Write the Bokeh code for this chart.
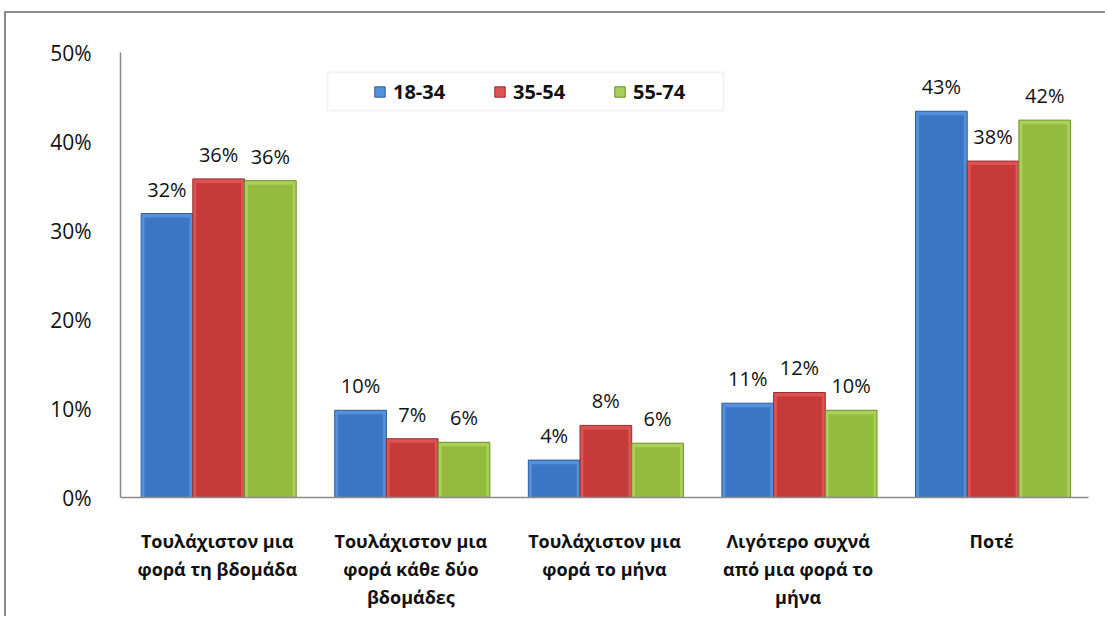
from bokeh.plotting import figure
from bokeh.models import (FactorRange, ColumnDataSource, Range1d, LabelSet, Legend, LegendItem,
                          PrintfTickFormatter, FixedTicker, BoxAnnotation)
from bokeh.core.properties import value
from bokeh.transform import dodge
from bokeh.embed import file_html
from bokeh.resources import INLINE

categories = ["Τουλάχιστον μια\nφορά τη βδομάδα",
              "Τουλάχιστον μια\nφορά κάθε δύο\nβδομάδες",
              "Τουλάχιστον μια\nφορά το μήνα",
              "Λιγότερο συχνά\nαπό μια φορά το\nμήνα",
              "Ποτέ"]
series_names = ["18-34", "35-54", "55-74"]
v18_34 = [31.9, 9.8, 4.2, 10.6, 43.4]
v35_54 = [35.8, 6.6, 8.1, 11.8, 37.8]
v55_74 = [35.6, 6.2, 6.1, 9.8, 42.4]
y_ticks = [0, 10, 20, 30, 40, 50]

colors = ["#3b76c4", "#c73a3a", "#93bc3f"]
bevels = ["#5590dc", "#dc5353", "#abd05a"]
edges = ["#2d5c9c", "#982c2c", "#6c8c2b"]
FONT = "Open Sans"

p = figure(width=1101, height=605, x_range=FactorRange(*categories), y_range=Range1d(0, 50),
           output_backend="svg", toolbar_location=None,
           min_border_left=114, min_border_right=19, min_border_top=39, min_border_bottom=121)
p.styles = {"margin-left": "4px", "margin-top": "11px",
            "border-top": "2px solid #8a8a8a", "border-left": "2px solid #8a8a8a"}
p.outline_line_color = None
p.xgrid.grid_line_color = None
p.ygrid.grid_line_color = None

BEVEL = 0.45  # visual bevel depth in y units
src = ColumnDataSource(dict(cat=categories, a=v18_34, b=v35_54, c=v55_74,
                            ai=[max(v - BEVEL, 0) for v in v18_34],
                            bi=[max(v - BEVEL, 0) for v in v35_54],
                            ci=[max(v - BEVEL, 0) for v in v55_74],
                            la=[f"{round(v)}%" for v in v18_34],
                            lb=[f"{round(v)}%" for v in v35_54],
                            lc=[f"{round(v)}%" for v in v55_74]))

W = 0.267
items = []
for i, (key, lab, off, name) in enumerate([("a", "la", -W, series_names[0]),
                                           ("b", "lb", 0.0, series_names[1]),
                                           ("c", "lc", W, series_names[2])]):
    xs = dodge("cat", off + 0.007, range=p.x_range)
    r = p.vbar(x=xs, top=key, width=W, source=src,
               fill_color=bevels[i], line_color=edges[i], line_width=1)
    p.vbar(x=xs, top=key + "i", width=W - 0.035, source=src,
           fill_color=colors[i], line_color=None)
    labels = LabelSet(x=xs, y=key, text=lab, source=src,
                      text_align="center", text_baseline="alphabetic", y_offset=17,
                      text_font=value(FONT), text_font_size="20px", text_color="#111111")
    p.add_layout(labels)
    items.append(LegendItem(label=name, renderers=[r]))

# legend frame box
p.add_layout(BoxAnnotation(left=1.069, right=3.115, top=47.75, bottom=43.48,
                           fill_color="white", fill_alpha=1.0,
                           line_color="#d6d6d6", line_width=2))

legend = Legend(items=items, orientation="horizontal", location=(253, 392),
                label_text_font=FONT, label_text_font_size="20px", label_text_font_style="bold",
                label_text_color="#111111", glyph_width=13, glyph_height=13, label_standoff=7,
                label_width=100, spacing=0, padding=0, margin=0,
                border_line_color=None, background_fill_alpha=0.0)
p.add_layout(legend, "center")

p.yaxis.ticker = FixedTicker(ticks=y_ticks)
p.yaxis.formatter = PrintfTickFormatter(format="%d%%")
p.yaxis.major_label_text_font = FONT
p.yaxis.major_label_text_font_size = "21px"
p.yaxis.major_label_text_color = "#111111"
p.yaxis.major_label_standoff = 23
p.yaxis.major_tick_line_color = None
p.yaxis.minor_tick_line_color = None
p.yaxis.axis_line_color = "#8a8a8a"
p.yaxis.axis_line_width = 1.5

p.xaxis.major_label_text_font = FONT
p.xaxis.major_label_text_font_size = "18px"
p.xaxis.major_label_text_font_style = "bold"
p.xaxis.major_label_text_color = "#111111"
p.xaxis.major_label_text_line_height = 1.18
p.xaxis.major_label_standoff = 25
p.xaxis.major_tick_line_color = None
p.xaxis.minor_tick_line_color = None
p.xaxis.axis_line_color = "#8a8a8a"
p.xaxis.axis_line_width = 1.5

open("out.html", "w").write(file_html(p, INLINE))
